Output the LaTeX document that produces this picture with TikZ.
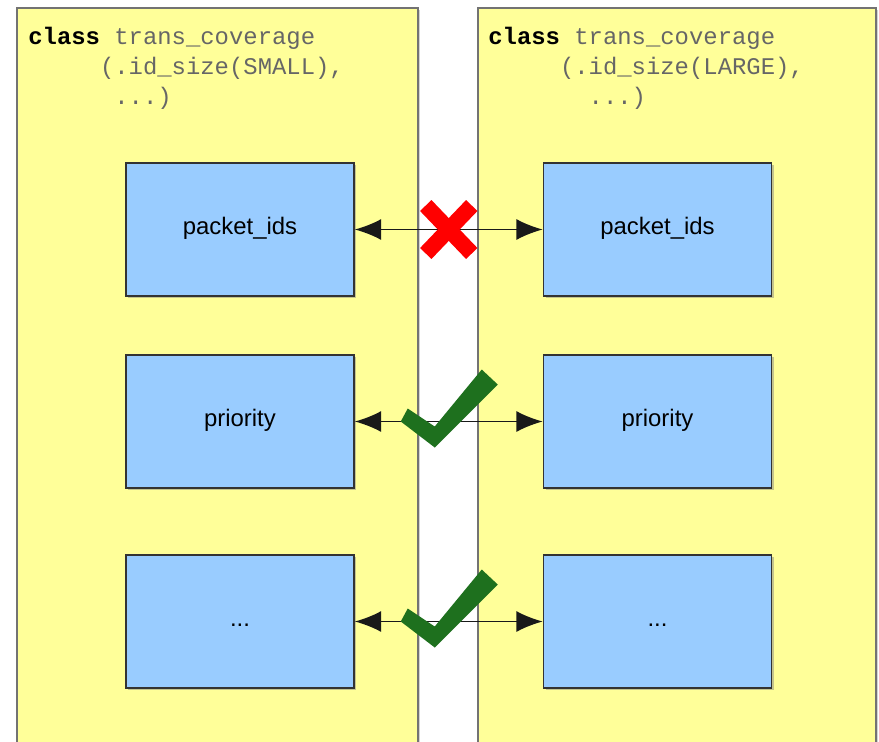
\documentclass[tikz,border=0pt]{standalone}
\usepackage{fontspec}
\setmainfont{Liberation Sans}
\setmonofont{Liberation Mono}
\usetikzlibrary{arrows.meta, shadows}
\definecolor{panelyellow}{RGB}{255,255,153}
\definecolor{fieldblue}{RGB}{153,204,255}
\definecolor{paneledge}{RGB}{115,115,115}
\definecolor{okgreen}{RGB}{30,112,30}
\definecolor{badred}{RGB}{255,0,0}

\tikzset{
  panel/.style={fill=panelyellow, draw=paneledge, line width=1.2pt,
    drop shadow={shadow xshift=1pt, shadow yshift=-1pt, opacity=0.35}},
  field/.style={draw=black!80, fill=fieldblue, line width=1pt,
    minimum width=4.56cm, minimum height=2.66cm, inner sep=0pt,
    text height=0.75em, text depth=0.22em,
    font=\fontsize{13.6}{16}\selectfont,
    drop shadow={shadow xshift=1.2pt, shadow yshift=-1.2pt, opacity=0.45}},
  link/.style={{Latex[length=15pt,width=12pt]}-{Latex[length=15pt,width=12pt]},
    line width=0.9pt, black!90},
  codetext/.style={anchor=north west, align=left, inner sep=0pt,
    font=\ttfamily\fontsize{13.6}{17}\selectfont, text=black!60},
  nomark/.pic={
    \draw[badred, line width=9pt] (-23,-24) -- (23,24);
    \draw[badred, line width=9pt] (23,-24) -- (-23,24);
  },
  okmark/.pic={
    \fill[okgreen] (-41,-13) -- (-48,0) -- (-14,26) -- (49,-37)
      -- (33,-52) -- (-14,5) -- cycle;
  },
}

\begin{document}
\begin{tikzpicture}[x=0.02cm, y=-0.02cm]
\useasboundingbox (0,0) rectangle (879,741);
\clip (0,0) rectangle (879,741);

% the two classes, running off the bottom
\draw[panel] (17,8) rectangle (418,790);
\draw[panel] (478,8) rectangle (876,790);

\node[codetext] (smallcode) at (28,27)
  {\textcolor{black}{\textbf{class}} trans\_coverage\\
   \phantom{xxxxx}(.id\_size(SMALL),\\
   \phantom{xxxxxx}...)};
\node[codetext] (largecode) at (488,27)
  {\textcolor{black}{\textbf{class}} trans\_coverage\\
   \phantom{xxxxx}(.id\_size(LARGE),\\
   \phantom{xxxxxxx}...)};

% fields
\node[field] (smallids)  at (240,229.5) {packet\_ids};
\node[field] (smallprio) at (240,421.5) {priority};
\node[field] (smallmore) at (240,621.5) {...};
\node[field] (largeids)  at (657.5,229.5) {packet\_ids};
\node[field] (largeprio) at (657.5,421.5) {priority};
\node[field] (largemore) at (657.5,621.5) {...};

% links between the fields
\draw[link] (smallids) -- (largeids) coordinate[midway] (idsmid);
\draw[link] (smallprio) -- (largeprio) coordinate[midway] (priomid);
\draw[link] (smallmore) -- (largemore) coordinate[midway] (moremid);

\pic at (idsmid) {nomark};
\pic at (priomid) {okmark};
\pic at (moremid) {okmark};
\end{tikzpicture}
\end{document}
